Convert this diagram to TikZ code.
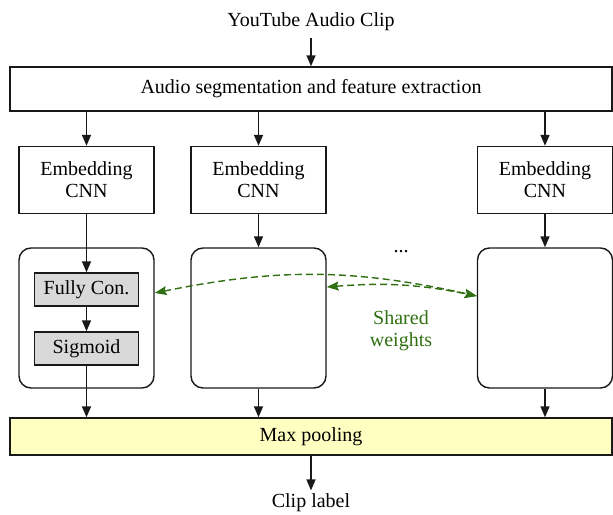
\documentclass[tikz,border=0pt]{standalone}
\usepackage{fontspec}
\setmainfont{Liberation Serif}
\usetikzlibrary{arrows.meta}
\definecolor{swgreen}{RGB}{48,112,18}
\definecolor{poolfill}{RGB}{255,255,194}
\definecolor{fcfill}{RGB}{217,217,217}
\definecolor{linegray}{RGB}{25,25,25}
\tikzset{
  every node/.style={font=\fontsize{20}{22}\selectfont},
  sqbox/.style={draw=linegray, line width=1.4pt, fill=white, inner sep=0pt, align=center},
  rbox/.style={draw=linegray, line width=1.4pt, rounded corners=12pt, inner sep=0pt, minimum width=135pt, minimum height=140pt},
  fcbox/.style={draw=linegray, line width=1.4pt, fill=fcfill, inner sep=0pt, minimum width=104pt, minimum height=33pt},
  flow/.style={draw=linegray, line width=1.4pt, -{Triangle[length=11pt,width=9pt]}},
  shared/.style={draw=swgreen, line width=1.4pt, dash pattern=on 7pt off 4pt, {Stealth[length=12pt,width=9pt,inset=2pt]}-{Stealth[length=12pt,width=9pt,inset=2pt]}},
}
\begin{document}
\begin{tikzpicture}[x=1pt,y=-1pt]
\useasboundingbox (0,0) rectangle (613,514);
% top
\node (yt) at (311,22) {YouTube Audio Clip};
\coordinate (yta) at (311,38);
\node[sqbox, minimum width=602pt, minimum height=44pt] (seg) at (311,89) {Audio segmentation and feature extraction};
% embedding CNNs
\node[sqbox, minimum width=135pt, minimum height=67pt] (e1) at (86.5,180) {Embedding\\CNN};
\node[sqbox, minimum width=135pt, minimum height=67pt] (e2) at (258.5,180) {Embedding\\CNN};
\node[sqbox, minimum width=135pt, minimum height=67pt] (e3) at (545,180) {Embedding\\CNN};
% rounded containers
\node[rbox] (r1) at (86.5,318) {};
\node[rbox] (r2) at (258.5,318) {};
\node[rbox] (r3) at (545,318) {};
\node[fcbox] (fc) at (86.5,289.5) {Fully Con.};
\node[fcbox] (sg) at (86.5,348.5) {Sigmoid};
\node (dots) at (401,252) {...};
% pooling
\node[sqbox, fill=poolfill, minimum width=602pt, minimum height=37pt] (pool) at (311,436.5) {Max pooling};
\node (clip) at (311,503) {Clip label};
% shared weights
\node[text=swgreen, align=center] (sw) at (401,331) {Shared\\weights};
% connectors
\draw[flow] (yta) -- (seg.north);
\draw[flow] (seg.south -| e1.north) -- (e1.north);
\draw[flow] (seg.south -| e2.north) -- (e2.north);
\draw[flow] (seg.south -| e3.north) -- (e3.north);
\draw[flow] (e1.south) -- (fc.north);
\draw[flow] (fc.south) -- (sg.north);
\draw[flow] (sg.south) -- (pool.north -| sg.south);
\draw[flow] (e2.south) -- (r2.north);
\draw[flow] (e3.south) -- (r3.north);
\draw[flow] (r2.south) -- (pool.north -| r2.south);
\draw[flow] (r3.south) -- (pool.north -| r3.south);
\draw[flow] (pool.south) -- (clip.north);
% shared weights arrows
\coordinate (s1) at (r1.east |- 0,293);
\coordinate (s2) at (r2.east |- 0,287);
\coordinate (s3) at (r3.west |- 0,296);
\draw[shared] (s1) to[bend left=12] (s3);
\draw[shared] (s2) to[bend left=8] (s3);
\end{tikzpicture}
\end{document}
